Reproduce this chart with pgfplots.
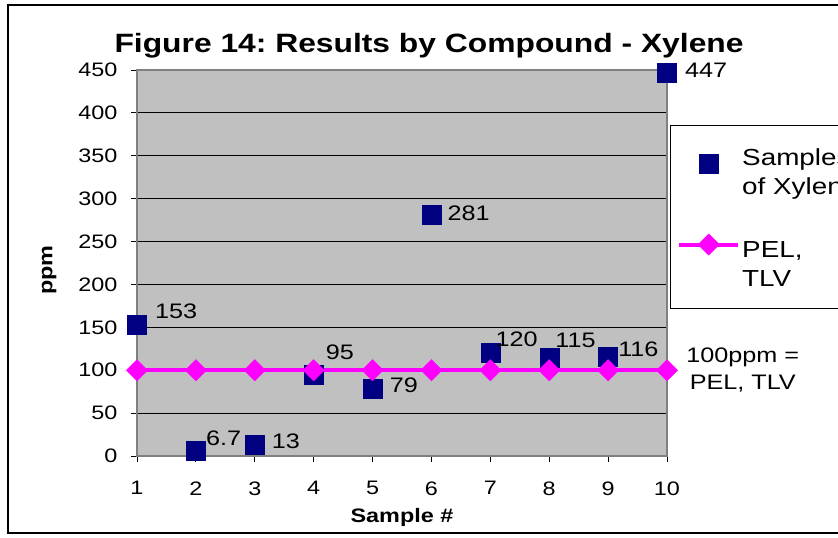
\documentclass[border=0pt]{standalone}
\usepackage{fontspec}
\setmainfont{Liberation Sans}[FakeStretch=1.2]
\usepackage{pgfplots}
\usepackage{pgfplotstable}
\pgfplotsset{compat=1.18}
\frenchspacing

\definecolor{navyblue}{RGB}{0,0,128}
\definecolor{pelpink}{RGB}{255,0,255}
\definecolor{plotgray}{RGB}{192,192,192}
\definecolor{bordergray}{RGB}{128,128,128}

\pgfplotsset{
  baselegend/.style={legend image code/.code={\draw[mark repeat=2,mark phase=2,##1] plot coordinates {(0pt,0pt) (29.5pt,0pt) (59pt,0pt)};}},
  pellegend/.style={legend image code/.code={\draw[mark repeat=2,mark phase=2,##1] plot coordinates {(0pt,18pt) (29.5pt,18pt) (59pt,18pt)};}},
}

% sample results (ppm) and label offsets
\pgfplotstableread{
x  y    dx dy lab
1  153  18 13 153
2  6.7  10 12 6.7
3  13   17 4  13
4  95   12 22 95
5  79   17 3  79
6  281  16 2  281
7  120  5  14 120
8  115  6  17 115
9  116  10 7  116
10 447  18 2  447
}\samples

\pgfplotstableread{
x  y
1  100
2  100
3  100
4  100
5  100
6  100
7  100
8  100
9  100
10 100
}\pel

\begin{document}
\begin{tikzpicture}
\useasboundingbox (0,0) rectangle (838pt,538pt);
\clip (0,0) rectangle (838pt,538pt);
\draw[black, line width=1.5pt] (8pt,5pt) rectangle (860pt,533pt);
\begin{axis}[
    at={(137pt,82pt)}, anchor=south west,
    scale only axis,
    width=530pt, height=386pt,
    xmin=1, xmax=10, ymin=0, ymax=450,
    xtick={1,...,10},
    ytick={0,50,...,450},
    tick align=outside,
    tick pos=left,
    major tick length=6pt,
    tick style={black, line width=0.8pt},
    axis line style={draw=bordergray, line width=1.5pt},
    axis background/.style={fill=plotgray},
    ymajorgrids,
    grid style={black, line width=0.8pt},
    /pgf/number format/assume math mode=true,
    ticklabel style={font=\fontsize{19.5}{23}\selectfont},
    xticklabel style={yshift=-16pt},
    yticklabel style={xshift=-10pt},
    title={Figure 14: Results by Compound - Xylene},
    title style={at={(0.551,1.047)}, anchor=center, font=\bfseries\fontsize{26.5}{30}\selectfont},
    xlabel={Sample \#},
    xlabel style={at={(0.5,-0.16)}, anchor=center, font=\bfseries\fontsize{19.5}{23}\selectfont},
    ylabel={ppm},
    ylabel style={at={(-0.166,0.482)}, anchor=center, font=\bfseries\fontsize{19.5}{23}\selectfont},
    clip=false,
    legend style={at={(1.0057,0.8575)}, anchor=north west, draw=black, fill=white,
        inner xsep=7pt, inner ysep=18pt, row sep=50pt,
        font=\fontsize{23.2}{29}\selectfont,
        cells={anchor=west}},
]
\addplot[baselegend, only marks, mark=square*, mark size=9.5pt, color=navyblue,
    point meta=explicit symbolic,
    visualization depends on={\thisrow{dx}\as\dx},
    visualization depends on={\thisrow{dy}\as\dy},
    nodes near coords,
    every node near coord/.append style={anchor=west, inner sep=0pt, black,
        xshift=\dx, yshift=\dy, font=\fontsize{21}{25}\selectfont}]
    table[x=x, y=y, meta=lab] {\samples};
\addlegendentry{\begin{tabular}{@{}l@{}}Samples\\of Xylene\end{tabular}}
\addplot[pellegend, pelpink, line width=4pt, mark=square*, mark size=7.5pt,
    mark options={rotate=45, line width=0.5pt}]
    table[x=x, y=y] {\pel};
\addlegendentry{\begin{tabular}{@{}l@{}}PEL,\\TLV\rule[-36pt]{0pt}{36pt}\end{tabular}}
\node[align=center, font=\fontsize{21}{27}\selectfont] at (axis description cs:1.143,0.223) {100ppm =\\PEL, TLV};
\end{axis}
\end{tikzpicture}
\end{document}
